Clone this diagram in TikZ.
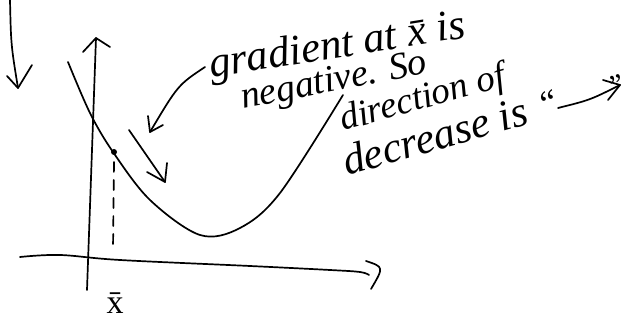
\documentclass[tikz,border=0pt]{standalone}
\usepackage{fontspec}
\setmainfont{Liberation Serif}
\usetikzlibrary{arrows.meta}
\begin{document}
\begin{tikzpicture}[x=1pt,y=-1pt,
  pen/.style={line width=1.7pt, line cap=round, line join=round},
  hand/.style={inner sep=0pt, anchor=base west}]
\useasboundingbox (0,0) rectangle (627,323);

% top-left arrow
\coordinate (tl0) at (10,0);
\coordinate (tl1) at (18,88);
\draw[pen] (tl0) .. controls (11,45) .. (tl1);
\draw[pen] (7,76) -- (tl1) -- (32,65);

% y axis
\coordinate (yb) at (87,290);
\coordinate (yt) at (96,38);
\draw[pen] (yb) -- (yt);
\draw[pen] (83,52) -- (yt) -- (110,47);

% x axis
\coordinate (xa) at (20,257);
\coordinate (xb) at (369,275);
\draw[pen] plot[smooth, tension=0.6] coordinates {(xa) (60,255) (120,260) (250,266) (330,270) (360,272) (xb)};
\draw[pen] (366,261) .. controls (384,267) .. (371,289);

% curve
\draw[pen] plot[smooth, tension=0.55] coordinates {(68,62) (90,113) (113,152) (150,200) (200,235) (240,228) (280,193) (343,95)};

% point and dashed drop
\coordinate (pt) at (114,152);
\coordinate (ft) at (113,250);
\fill (pt) circle (3);
\draw[pen, dash pattern=on 10pt off 8pt] (114,162) -- (ft);
\node[font=\fontsize{34}{38}\selectfont, inner sep=0pt] (xbar) at (115,303) {\={x}};

% arrow along the curve
\coordinate (a0) at (129,130);
\coordinate (a1) at (165,182);
\draw[pen] (a0) -- (a1);
\draw[pen] (147,172) -- (a1) -- (167,163);

% curved arrow from the text
\coordinate (c0) at (205,67);
\coordinate (c1) at (150,132);
\draw[pen] (c0) .. controls (178,85) .. (c1);
\draw[pen] (148,116) -- (c1) -- (163,125);

% text
\node[hand, font=\fontsize{43}{47}\selectfont\itshape, rotate=9] (t1) at (211,78) {gradient at \={x} is};
\node[hand, font=\fontsize{38}{42}\selectfont\itshape, rotate=11] (t2) at (243,109) {negative. So};
\node[hand, font=\fontsize{37}{41}\selectfont\itshape, rotate=15.5] (t3) at (343,131) {direction of};
\node[hand, font=\fontsize{43}{47}\selectfont\itshape, rotate=16] (t4) at (347,176) {decrease is};
\node[hand, font=\fontsize{36}{40}\selectfont\itshape, rotate=16] (q1) at (541,118) {``};
\coordinate (r0) at (558,108);
\coordinate (r1) at (620,85);
\draw[pen] (r0) .. controls (590,100) .. (r1);
\draw[pen] (603,80) -- (r1) -- (608,100);
\node[hand, font=\fontsize{30}{34}\selectfont\itshape, rotate=16] (q2) at (610,98) {''};
\end{tikzpicture}
\end{document}
